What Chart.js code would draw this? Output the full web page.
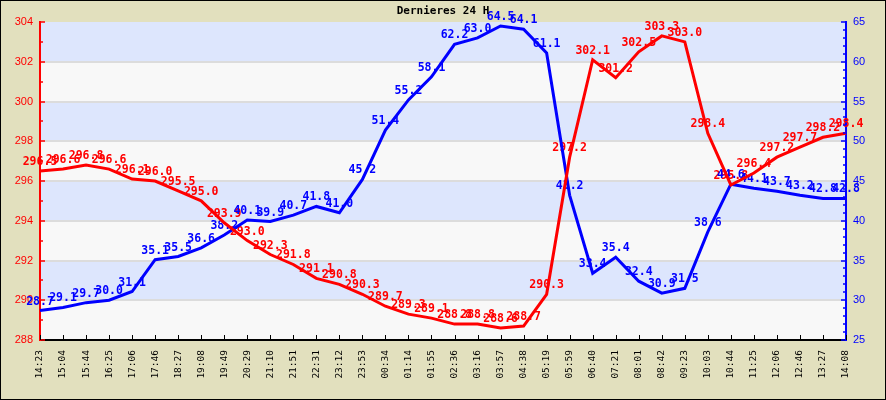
<!DOCTYPE html>
<html>
<head>
<meta charset="utf-8">
<script src="https://cdn.jsdelivr.net/npm/chart.js@4.4.0/dist/chart.umd.min.js"></script>
<style>
html, body { margin: 0; padding: 0; background: #e2e0be; }
canvas { display: block; }
</style>
</head>
<body>
<canvas id="graphe" width="886" height="400"></canvas>
<script>
/* donnees */
var heures = ["14:23", "15:04", "15:44", "16:25", "17:06", "17:46", "18:27", "19:08", "19:49", "20:29",
    "21:10", "21:51", "22:31", "23:12", "23:53", "00:34", "01:14", "01:55", "02:36", "03:16",
    "03:57", "04:38", "05:19", "05:59", "06:40", "07:21", "08:01", "08:42", "09:23", "10:03",
    "10:44", "11:25", "12:06", "12:46", "13:27", "14:08"];

var serieRouge = [296.5, 296.6, 296.8, 296.6, 296.1, 296.0, 295.5, 295.0, 293.9, 293.0,
    292.3, 291.8, 291.1, 290.8, 290.3, 289.7, 289.3, 289.1, 288.8, 288.8,
    288.6, 288.7, 290.3, 297.2, 302.1, 301.2, 302.5, 303.3, 303.0, 298.4,
    295.8, 296.4, 297.2, 297.7, 298.2, 298.4];

var serieBleue = [28.7, 29.1, 29.7, 30.0, 31.1, 35.1, 35.5, 36.6, 38.2, 40.1,
    39.9, 40.7, 41.8, 41.0, 45.2, 51.4, 55.2, 58.1, 62.2, 63.0,
    64.5, 64.1, 61.1, 43.2, 33.4, 35.4, 32.4, 30.9, 31.5, 38.6,
    44.6, 44.1, 43.7, 43.2, 42.8, 42.8];

var ticksGauche = [288, 290, 292, 294, 296, 298, 300, 302, 304];
var ticksDroite = [25, 30, 35, 40, 45, 50, 55, 60, 65];

var titre = "Dernieres 24 H";

/* fond, bandes, cadre, graduations */
var decor = {
    id: 'decor',
    beforeDraw: function(chart) {
        var ctx = chart.ctx, a = chart.chartArea, y = chart.scales.y;
        ctx.save();
        ctx.fillStyle = '#e2e0be';
        ctx.fillRect(0, 0, chart.width, chart.height);
        ctx.fillStyle = '#f8f8f8';
        ctx.fillRect(a.left, a.top, a.right - a.left, a.bottom - a.top);
        ctx.fillStyle = '#dde6fd';
        for (var v = y.max; v > y.min; v -= 4) {
            var t = y.getPixelForValue(v), b = y.getPixelForValue(v - 2);
            ctx.fillRect(a.left, t, a.right - a.left, b - t);
        }
        ctx.restore();
    },
    afterDraw: function(chart) {
        var ctx = chart.ctx, a = chart.chartArea;
        var x = chart.scales.x, y = chart.scales.y, y1 = chart.scales.y1;
        ctx.save();
        ctx.lineWidth = 1.5;

        ctx.strokeStyle = '#ff0000';
        for (var v = y.min; v <= y.max; v++) {
            var py = Math.round(y.getPixelForValue(v));
            ctx.beginPath();
            ctx.moveTo(a.left, py);
            ctx.lineTo(a.left + (v % 2 === 0 ? 5 : 3), py);
            ctx.stroke();
        }

        ctx.strokeStyle = '#0000ff';
        for (var w = y1.min; w <= y1.max; w++) {
            var qy = Math.round(y1.getPixelForValue(w));
            ctx.beginPath();
            ctx.moveTo(a.right, qy);
            ctx.lineTo(a.right - (w % 5 === 0 ? 5 : 3), qy);
            ctx.stroke();
        }

        ctx.strokeStyle = '#000000';
        ctx.lineWidth = 1;
        for (var i = 0; i < heures.length; i++) {
            var px = Math.round(x.getPixelForValue(i)) + 0.5;
            ctx.beginPath();
            ctx.moveTo(px, a.bottom);
            ctx.lineTo(px, a.bottom - 5);
            ctx.stroke();
        }

        ctx.fillStyle = '#000000';
        ctx.font = 'bold 11px "DejaVu Sans Mono"';
        ctx.textAlign = 'center';
        ctx.textBaseline = 'middle';
        ctx.fillText(titre, (a.left + a.right) / 2, 11);

        ctx.strokeStyle = '#000000';
        ctx.lineWidth = 1;
        ctx.strokeRect(0.5, 0.5, chart.width - 1, chart.height - 1);
        ctx.restore();
    }
};

/* valeurs ecrites sur les courbes, sous les lignes */
var etiquettes = {
    id: 'etiquettes',
    beforeDatasetsDraw: function(chart) {
        var ctx = chart.ctx;
        ctx.save();
        ctx.font = 'bold 11.5px "DejaVu Sans Mono"';
        ctx.textAlign = 'center';
        ctx.textBaseline = 'alphabetic';
        chart.data.datasets.forEach(function(ds, i) {
            var meta = chart.getDatasetMeta(i);
            ctx.fillStyle = ds.borderColor;
            meta.data.forEach(function(pt, j) {
                ctx.fillText(ds.data[j].toFixed(1), pt.x, pt.y - 6);
            });
        });
        ctx.restore();
    }
};

var ctx = document.getElementById('graphe').getContext('2d');
new Chart(ctx, {
    type: 'line',
    data: {
        labels: heures,
        datasets: [{
            data: serieRouge,
            borderColor: '#ff0000',
            borderWidth: 3,
            pointRadius: 0,
            tension: 0,
            yAxisID: 'y'
        }, {
            data: serieBleue,
            borderColor: '#0000ff',
            borderWidth: 3,
            pointRadius: 0,
            tension: 0,
            yAxisID: 'y1'
        }]
    },
    options: {
        responsive: false,
        animation: false,
        devicePixelRatio: 1,
        layout: { padding: { top: 22, left: 0, right: 0, bottom: 0 } },
        plugins: {
            legend: { display: false },
            title: { display: false },
            tooltip: { enabled: false }
        },
        scales: {
            x: {
                offset: false,
                afterFit: function(s) { s.height = 60; },
                grid: { display: true, drawOnChartArea: false, drawTicks: false },
                border: { color: '#000000', width: 2 },
                ticks: {
                    autoSkip: false,
                    minRotation: 90,
                    maxRotation: 90,
                    padding: 10,
                    color: '#000000',
                    font: { family: '"DejaVu Sans Mono"', size: 9.5 }
                }
            },
            y: {
                position: 'left',
                min: 288,
                max: 304,
                afterFit: function(s) { s.width = 40; },
                border: { color: '#ff0000', width: 2 },
                grid: {
                    drawTicks: false,
                    lineWidth: 2,
                    color: function(c) {
                        var v = c.tick.value;
                        return (v % 2 === 0 && v < 304 && v > 288) ? '#dcdcdc' : 'rgba(0,0,0,0)';
                    }
                },
                ticks: {
                    stepSize: 1,
                    autoSkip: false,
                    padding: 7,
                    color: '#ff0000',
                    font: { family: '"Liberation Sans"', size: 11 },
                    callback: function(v) { return ticksGauche.indexOf(v) >= 0 ? String(v) : ''; }
                }
            },
            y1: {
                position: 'right',
                min: 25,
                max: 65,
                afterFit: function(s) { s.width = 40; },
                border: { color: '#0000ff', width: 2 },
                grid: { drawOnChartArea: false, drawTicks: false },
                ticks: {
                    stepSize: 1,
                    autoSkip: false,
                    padding: 7,
                    color: '#0000ff',
                    font: { family: '"Liberation Sans"', size: 11 },
                    callback: function(v) { return ticksDroite.indexOf(v) >= 0 ? String(v) : ''; }
                }
            }
        }
    },
    plugins: [decor, etiquettes]
});
</script>
</body>
</html>
